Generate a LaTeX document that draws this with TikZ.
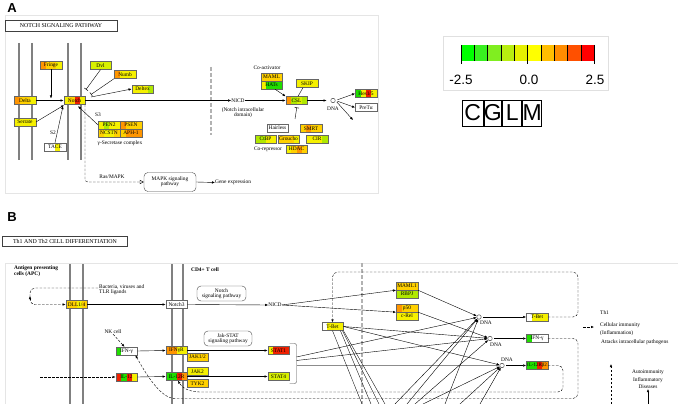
\documentclass[tikz,border=0pt]{standalone}
\usepackage{fontspec}
\setmainfont{Liberation Serif}
\newfontfamily\lsans{Liberation Sans}
\usetikzlibrary{arrows.meta,calc}
\definecolor{kyel}{HTML}{F5F000}
\definecolor{kgold}{HTML}{FFD000}
\definecolor{korg}{HTML}{FF9500}
\definecolor{kred}{HTML}{F02000}
\definecolor{kgrn}{HTML}{20DD00}
\definecolor{klgn}{HTML}{B0E800}
\definecolor{kyg}{HTML}{D8F000}
\definecolor{Lc1}{HTML}{00FF00}
\definecolor{Lc2}{HTML}{38F020}
\definecolor{Lc3}{HTML}{80EE20}
\definecolor{Lc4}{HTML}{B8EE10}
\definecolor{Lc5}{HTML}{E6F000}
\definecolor{Lc6}{HTML}{FFFF00}
\definecolor{Lc7}{HTML}{FFBE00}
\definecolor{Lc8}{HTML}{FF8C00}
\definecolor{Lc9}{HTML}{FF5000}
\definecolor{Lc10}{HTML}{FF0000}
\newcommand{\kgf}{\fontsize{5.4}{5.4}\selectfont}
\newcommand{\kbf}{\fontsize{5.4}{4.8}\selectfont\bfseries}
\newcommand{\kwf}{\fontsize{5.4}{8}\selectfont}
\tikzset{
 gene/.style={draw=black!60, line width=0.35pt, minimum width=21.5pt, minimum height=8pt, inner sep=0pt, font=\kgf},
 g4/.style n args={4}{path picture={
   \fill[#1] (path picture bounding box.north west) rectangle ++(5.375,9);
   \fill[#2] ($(path picture bounding box.north west)+(5.375,0)$) rectangle ++(5.375,9);
   \fill[#3] ($(path picture bounding box.north west)+(10.75,0)$) rectangle ++(5.375,9);
   \fill[#4] ($(path picture bounding box.north west)+(16.125,0)$) rectangle ++(5.375,9);}},
 arr/.style={-{Latex[length=3pt,width=2.4pt]}, line width=0.4pt},
 inh/.style={-{Bar[width=4.5pt,line width=0.5pt]}, line width=0.4pt},
 mem/.style={draw=black!50, line width=1.3pt},
 gdash/.style={draw=black!30, line width=2.2pt, dash pattern=on 4pt off 2pt},
 kdash/.style={dash pattern=on 2.5pt off 1.5pt},
 pbox/.style={draw=black!70, rounded corners=4pt, line width=0.4pt, align=center, font=\kgf, inner sep=0pt},
 lbl/.style={font=\kgf, inner sep=0pt},
 dnac/.style={circle, draw=black!80, line width=0.4pt, minimum size=4.5pt, inner sep=0pt, fill=white},
 tbox/.style={draw=black!75, line width=0.6pt, inner sep=0pt, font=\fontsize{5.9}{6}\selectfont},
 plab/.style={font=\lsans\bfseries\fontsize{13}{13}\selectfont, inner sep=0pt},
 leg/.style={font=\lsans\fontsize{13.5}{14}\selectfont, inner sep=0pt},
 cglm/.style={draw=black, line width=0.8pt, minimum height=26pt, inner sep=0pt, font=\lsans\fontsize{23}{23}\selectfont}
}
\begin{document}
\begin{tikzpicture}[x=1pt,y=-1pt]
\useasboundingbox (0,0) rectangle (678,404);
\fill[white] (0,0) rectangle (678,404);

% ================= Panel A =================
\node[plab] (labA) at (12,8) {A};
\draw[black!10, line width=0.8pt] (5,15) rectangle (378,193);
\node[tbox, minimum width=112pt, minimum height=11pt] (titA) at (61,25.5) {NOTCH SIGNALING PATHWAY};
\foreach \x in {19,32,68,81} \draw[mem] (\x,43) -- (\x,160);
\draw[gdash] (211,67) -- (211,135);

\node[gene, g4={korg}{kgold}{kgold}{kyel}] (fringe) at (51,65) {Fringe};
\node[gene, fill=kyg] (dvl) at (100.5,65.5) {Dvl};
\node[gene, g4={korg}{kyel}{kyel}{kyel}] (numb) at (125,74.5) {Numb};
\node[gene, g4={kyel}{kyel}{kyel}{klgn}] (deltex) at (142.5,89) {Deltex};
\node[gene, g4={korg}{kgold}{kgold}{kyel}] (delta) at (25,100.5) {Delta};
\node[gene, g4={kyel}{kgold}{kred}{kyel}] (notch) at (74.5,100.5) {Notch};
\node[gene, fill=kyel] (serrate) at (25,122) {Serrate};
\node[gene, g4={white}{white}{kyel}{white}] (tace) at (55,147) {TACE};
\node[gene, g4={kyel}{klgn}{kyel}{kyel}] (pen2) at (109,125) {PEN2};
\node[gene, g4={korg}{kgold}{kgold}{kgold}] (psen) at (131,125) {PSEN};
\node[gene, g4={kgold}{kyel}{kyel}{kgold}] (ncstn) at (109,133) {NCSTN};
\node[gene, g4={kgold}{korg}{korg}{korg}] (aph1) at (131,133) {APH-1};

\node[gene, fill=kgold] (maml) at (271.5,77) {MAML};
\node[gene, g4={kyel}{kgrn}{kgrn}{kgrn}] (hats) at (271.5,85) {HATs};
\node[gene, fill=kyel] (skip) at (307,83.5) {SKIP};
\node[gene, g4={korg}{klgn}{kyg}{klgn}] (csl) at (296.5,100.5) {CSL};
\node[gene, fill=white] (hairless) at (277.5,128) {Hairless};
\node[gene, g4={kgold}{korg}{kgold}{kgold}] (smrt) at (311,128.5) {SMRT};
\node[gene, g4={klgn}{klgn}{kyel}{kyel}] (ctbp) at (265.5,139) {CtBP};
\node[gene, g4={kgold}{kgold}{kgold}{kyel}] (groucho) at (288.5,139) {Groucho};
\node[gene, g4={kyel}{kyel}{kyel}{klgn}] (cir) at (317,139) {CIR};
\node[gene, g4={kyel}{kgold}{korg}{kgold}] (hdac) at (296.5,149) {HDAC};
\node[gene, g4={kgrn}{kyel}{kred}{kyel}] (hes) at (366,93.5) {Hes1/5};
\node[gene, fill=white] (pret) at (366,107.5) {PreTα};

\node[lbl] (coact) at (267,68) {Co-activator};
\node[lbl] (corep) at (268,149.5) {Co-repressor};
\node[lbl] (gsec) at (120,143) {γ-Secretase complex};
\node[lbl] (s3) at (98,115) {S3};
\node[lbl] (s2) at (53,133) {S2};
\node[lbl] (nicdA) at (238,100.5) {NICD};
\node[lbl, align=center] (nicddom) at (243,113) {(Notch intracellular\\domain)};
\node[dnac] (dnaA) at (333,100.5) {};
\node[lbl] (dnaAl) at (333,109) {DNA};
\node[pbox, minimum width=52pt, minimum height=19pt] (mapk) at (170,182) {MAPK signaling\\pathway};
\node[lbl] (rasmapk) at (112,176.5) {Ras/MAPK};
\node[lbl, anchor=west] (geneexp) at (215,182.5) {Gene expression};

\draw[arr] (delta.east) -- (notch.west);
\coordinate (frE) at (51,98.5);
\draw[arr] (fringe.south) -- (frE);
\coordinate (dvlE) at (86,89.5);
\draw[inh] (dvl.south) -- (dvlE);
\coordinate (numbE) at (91,94.5);
\draw[inh] (numb.south west) -- (numbE);
\coordinate (dtxS) at (91,97);
\draw[arr] (dtxS) -- (deltex.west);
\draw[arr] (serrate.east) -- ([xshift=-10.5pt,yshift=-0.5pt]notch.south);
\draw[arr] (tace.north) -- ([xshift=-11.5pt,yshift=-1.5pt]notch.south);
\draw[arr] (pen2.west) -- ([xshift=3.5pt,yshift=-1.5pt]notch.south);
\draw[kdash, -{Triangle[open,length=4pt,width=4pt]}, line width=0.4pt, rounded corners=3pt] ([xshift=10.5pt]notch.south) |- (mapk.west);
\draw[arr] (mapk.east) -- (geneexp.west);
\draw[arr] (notch.east) -- (nicdA.west);
\draw[arr] (nicdA.east) -- (csl.west);
\draw[arr] ([xshift=3.5pt]hats.south) -- (csl.north west);
\draw[line width=0.4pt] ([xshift=-4pt]skip.south) -- ([xshift=1.5pt]csl.north);
\coordinate (corepT) at (295,119);
\coordinate (cslBar) at (296.8,107.5);
\draw[inh] (corepT) -- (cslBar);
\draw[arr, shorten >=4pt] (csl.east) -- (dnaA.west);
\coordinate (dnaOut) at (353,120);
\draw[arr, shorten <=2pt] (dnaA.east) -- (hes.west);
\draw[arr, shorten <=2pt] (dnaA.east) -- (pret.west);
\draw[arr, shorten <=2pt] (dnaA.east) -- (dnaOut);

% ================= Legend =================
\draw[black!12, line width=0.6pt] (443,36) rectangle (608,90);
\foreach \i/\c in {0/Lc1,1/Lc2,2/Lc3,3/Lc4,4/Lc5,5/Lc6,6/Lc7,7/Lc8,8/Lc9,9/Lc10}
  \fill[\c] ({461+13.3*\i},45) rectangle ({461+13.3*(\i+1)},61);
\foreach \i in {0,...,10} \draw[black, line width=0.4pt] ({461+13.3*\i},45) -- ({461+13.3*\i},61);
\foreach \i in {0,5,10} \draw[black, line width=0.4pt] ({461+13.3*\i},61) -- ({461+13.3*\i},64.5);
\node[leg] (lm) at (461,80) {-2.5};
\node[leg] (l0) at (529,80) {0.0};
\node[leg] (lp) at (595,80) {2.5};
\node[cglm, minimum width=21pt, anchor=west] (cC) at (461.7,113) {C};
\node[cglm, minimum width=17.3pt, anchor=west] (cG) at (cC.east) {G};
\node[cglm, minimum width=19.3pt, anchor=west] (cL) at (cG.east) {L};
\node[cglm, minimum width=19pt, anchor=west] (cM) at (cL.east) {M};

% ================= Panel B =================
\node[plab] (labB) at (12,217) {B};
\node[tbox, minimum width=125pt, minimum height=9.5pt] (titB) at (65,241.3) {Th1 AND Th2 CELL DIFFERENTIATION};
\draw[black!10, line width=0.8pt] (5,404) -- (5,263) -- (678,263);
\foreach \x in {70,83,172,183} \draw[mem] (\x,264) -- (\x,404);
\draw[gdash] (362,263) -- (362,404);

\node[font=\kbf, inner sep=0pt, anchor=north west, align=left] (apc) at (14,265.5) {Antigen presenting\\cells (APC)};
\node[font=\kbf, inner sep=0pt, anchor=west] (cd4) at (191,270) {CD4+ T cell};
\node[lbl, anchor=west, align=left] (bact) at (99,289.5) {Bacteria, viruses and\\TLR ligands};

\node[gene, g4={kgold}{kgold}{kyel}{kgold}] (dll) at (76.5,304.5) {DLL1/4};
\node[gene, fill=white] (notch3) at (176.5,304.5) {Notch3};
\node[pbox, minimum width=49pt, minimum height=15pt] (notchpw) at (221.5,293.5) {Notch\\signaling pathway};
\node[lbl] (nicdB) at (275,305) {NICD};
\node[gene, fill=kgold] (maml1) at (407,286) {MAML1};
\node[gene, fill=klgn] (rbpj) at (407,294) {RBPJ};
\node[gene, g4={korg}{kgold}{kgold}{kgold}] (p50) at (407,308) {p50};
\node[gene, fill=kyel] (crel) at (407,316) {c-Rel};
\node[gene, g4={white}{kyel}{kyel}{kyel}] (tbetL) at (332.5,326.5) {T-Bet};
\node[lbl] (nk) at (113,332) {NK cell};
\node[gene, g4={kgrn}{white}{white}{white}] (ifngL) at (126.5,351) {IFN-γ};
\node[gene, g4={korg}{korg}{kyel}{kyel}] (ifngr) at (176.5,350.5) {IFNγR};
\node[gene, fill=kgold] (jak1) at (197.5,357) {JAK1/2};
\node[pbox, minimum width=48pt, minimum height=15pt] (jakstat) at (228,338.5) {Jak-STAT\\signaling pathway};
\node[gene, g4={kyel}{kred}{kred}{kred}] (stat1) at (278.5,350.5) {STAT1};
\node[gene, g4={kred}{kgrn}{kred}{kyel}] (il12) at (126.5,377) {IL-12};
\node[gene, g4={kgrn}{kgrn}{kred}{korg}] (il12r) at (176.5,376.5) {IL-12R};
\node[gene, fill=kyel] (jak2) at (197.5,371.5) {JAK2};
\node[gene, fill=kgold] (tyk2) at (197.5,383.5) {TYK2};
\node[gene, fill=kyg] (stat4) at (278.5,376.5) {STAT4};
\node[dnac] (d1) at (479,317) {};
\node[dnac] (d2) at (490,338.5) {};
\node[dnac] (d3) at (502,365.5) {};
\node[lbl] (d1l) at (486,322.5) {DNA};
\node[lbl] (d2l) at (496,344.5) {DNA};
\node[lbl] (d3l) at (507,359.5) {DNA};
\node[gene, g4={white}{kyel}{kyel}{kyel}] (tbetR) at (537,317) {T-Bet};
\node[gene, g4={kgrn}{white}{white}{white}] (ifngR) at (537,338.5) {IFN-γ};
\node[gene, g4={kgrn}{kgrn}{kred}{korg}, font=\fontsize{5}{5}\selectfont] (il12rb) at (537,365.5) {IL-12Rβ2};
\node[lbl, anchor=west] (th1) at (600,313) {Th1};
\node[lbl, anchor=west, align=left, font=\kwf] (cellimm) at (600,329) {Cellular immunity\\(Inflammation)};
\node[lbl, anchor=west] (attack) at (601,342) {Attacks intracellular pathogens};
\node[lbl, align=center, font=\fontsize{5.4}{7.5}\selectfont] (autoimm) at (648,379.5) {Autoimmunity\\Inflammatory\\Diseases};

% connectors B
\coordinate (bactS) at (98,288);
\draw[kdash, arr, rounded corners=5pt] (bactS) -- (30,288) -- (30,304.5) -- (dll.west);
\coordinate (upA) at (30,299.5);
\coordinate (upB) at (30,296);
\draw[arr] (upA) -- (upB);
\draw[arr] (dll.east) -- (notch3.west);
\draw[arr] (notch3.east) -- (nicdB.west);
\draw[arr] (nicdB.east) -- (maml1.south west);
\draw[arr] (nicdB.east) -- (p50.south west);
\draw[kdash, arr, rounded corners=5pt] (tbetR.east) -- (578,317) -- (578,272) -- (332.5,272) -- (tbetL.north);
\draw[kdash, arr] (nk.south) -- ([xshift=-2pt]ifngL.north);
\coordinate (il12in) at (40,377);
\draw[kdash, arr] (il12in) -- (il12.west);
\draw[arr] (ifngL.east) -- (ifngr.west);
\draw[arr] (il12.east) -- (il12r.west);
\draw[arr] (ifngr.east) -- (stat1.west);
\draw[arr] (il12r.east) -- (stat4.west);
\draw[line width=0.4pt, black!70, rounded corners=2pt] (289.5,343.5) -- (296.5,343.5) -- (296.5,383.5) -- (289.5,383.5);
\coordinate (brk1) at (296.5,357);
\coordinate (brk2) at (296.5,360.5);
\coordinate (brk3) at (296.5,365.5);
\draw[arr] (brk1) -- (d1);
\draw[arr] (brk2) -- (d2);
\draw[arr, draw=black!45, line width=0.8pt] (brk3) -- (d3);
\draw[arr] (maml1.south east) -- (d1);
\draw[arr] (p50.south east) -- (d2);
\draw[arr] (tbetL.east) -- (d2);
\draw[arr] (tbetL.east) -- (d3);
\coordinate (tb1) at (362,404);
\coordinate (tb2) at (371,404);
\coordinate (tb3) at (379,404);
\coordinate (tb4) at (385,404);
\draw[line width=0.35pt] (tbetL.south) -- (tb1);
\draw[line width=0.35pt] ([xshift=-3pt]tbetL.south east) -- (tb2);
\draw[line width=0.35pt] ([xshift=-1pt]tbetL.south east) -- (tb3);
\draw[line width=0.35pt] (tbetL.south east) -- (tb4);
\coordinate (bu1) at (395,404);
\coordinate (bu2) at (407,404);
\coordinate (bu3) at (415,404);
\coordinate (bu4) at (423,404);
\coordinate (bu5) at (445,404);
\coordinate (bu6) at (460,404);
\coordinate (bu7) at (480,404);
\draw[arr] (bu1) -- (d1);
\draw[arr] (bu2) -- (d1);
\draw[arr] (bu3) -- (d2);
\draw[arr] (bu4) -- (d3);
\draw[arr] (bu5) -- (d1);
\draw[arr] (bu6) -- (d3);
\draw[arr] (bu7) -- (d3);
\draw[arr, shorten <=2pt] (d1.east) -- (tbetR.west);
\draw[arr, shorten <=2pt] (d2.east) -- (ifngR.west);
\draw[arr, shorten <=2pt] (d3.east) -- (il12rb.west);
\draw[kdash, arr, rounded corners=5pt] (ifngR.east) -- (578,338.5) -- (578,398.5) -- (180,398.5) .. controls (160,398.5) and (145,372) .. ([xshift=-2pt]ifngL.south east);
\draw[kdash, arr, rounded corners=5pt] (il12rb.east) -- (563,365.5) -- (563,392) -- (205,392) .. controls (190,392) and (182,388) .. ([xshift=1.5pt]il12r.south);
\coordinate (th1s) at (583,327);
\coordinate (th1e) at (594,327);
\draw[kdash, arr] (th1s) -- (th1e);
\coordinate (aub) at (648,404);
\draw[arr] (aub) -- (autoimm.south);
\coordinate (tdb) at (611,404);
\coordinate (tdt) at (611,364);
\draw[kdash, arr] (tdb) -- (tdt);
\end{tikzpicture}
\end{document}
